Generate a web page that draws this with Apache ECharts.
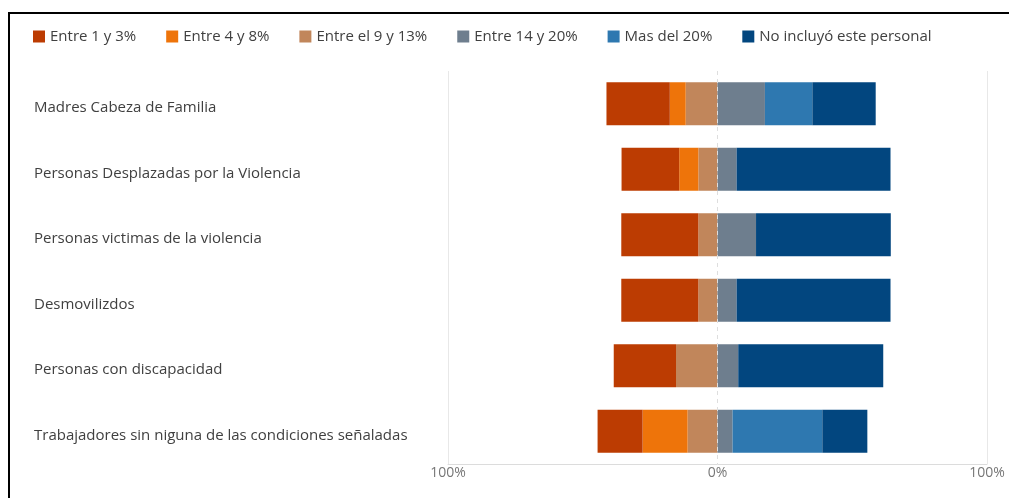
<!DOCTYPE html>
<html>
<head>
<meta charset="utf-8">
<script src="https://cdn.jsdelivr.net/npm/echarts@6/dist/echarts.min.js"></script>
<style>
html,body{margin:0;padding:0;background:#fff;}
#c{width:1009px;height:498px;}
</style>
</head>
<body>
<div id="c"></div>
<script>
// Categories (top to bottom)
const categories = [
  'Madres Cabeza de Familia',
  'Personas Desplazadas por la Violencia',
  'Personas victimas de la violencia',
  'Desmovilizdos',
  'Personas con discapacidad',
  'Trabajadores sin niguna de las condiciones señaladas'
];
const seriesNames = ['Entre 1 y 3%', 'Entre 4 y 8%', 'Entre el 9 y 13%', 'Entre 14 y 20%', 'Mas del 20%', 'No incluyó este personal'];
// Percentages per category (left side groups shown as negative)
const entre1y3   = [23.5, 21.4, 28.6, 28.6, 23.1, 16.7];
const entre4y8   = [5.9, 7.1, 0, 0, 0, 16.7];
const entre9y13  = [11.8, 7.1, 7.1, 7.1, 15.4, 11.1];
const entre14y20 = [17.6, 7.1, 14.3, 7.1, 7.7, 5.6];
const masDel20   = [17.6, 0, 0, 0, 0, 33.3];
const noIncluyo  = [23.5, 57.1, 50.0, 57.1, 53.8, 16.7];
const xTicks = [-100, 0, 100];

const colors = {
  'Entre 1 y 3%': '#BC3C02',
  'Entre 4 y 8%': '#EE740A',
  'Entre el 9 y 13%': '#C1865B',
  'Entre 14 y 20%': '#6E7E8E',
  'Mas del 20%': '#2E78B0',
  'No incluyó este personal': '#02467F'
};

function mk(name, arr, sign) {
  return {
    name: name,
    type: 'bar',
    stack: 'total',
    barWidth: 43,
    itemStyle: { color: colors[name] },
    emphasis: { disabled: true },
    data: arr.map(v => sign * v)
  };
}

const chart = echarts.init(document.getElementById('c'));
chart.setOption({
  animation: false,
  textStyle: { fontFamily: 'Open Sans' },
  legend: {
    data: seriesNames,
    left: 28, top: 24,
    itemWidth: 12, itemHeight: 12, itemGap: 30,
    icon: 'rect',
    textStyle: { fontSize: 15, color: '#404040', fontFamily: 'Open Sans' }
  },
  grid: { left: 448, right: 22, top: 71, bottom: 34, containLabel: false },
  xAxis: {
    type: 'value', min: xTicks[0], max: xTicks[2], interval: 100,
    axisLine: { show: true, lineStyle: { color: '#dcdcdc', width: 1 } },
    axisTick: { show: false },
    axisLabel: { formatter: v => Math.abs(v) + '%', color: '#777', fontSize: 14, margin: 2, fontFamily: 'Open Sans' },
    splitLine: { show: true, lineStyle: { color: ['#e8e8e8', 'rgba(0,0,0,0)', '#e8e8e8'], width: 1 } }
  },
  yAxis: {
    type: 'category', data: categories, inverse: true,
    axisLine: { show: false }, axisTick: { show: false },
    axisLabel: {
      align: 'left', margin: 414,
      formatter: v => '{a|' + v + '}',
      rich: { a: { color: '#404040', fontSize: 15, fontFamily: 'Open Sans', padding: [8, 0, 0, 0] } }
    }
  },
  graphic: [{
    type: 'rect', silent: true,
    shape: { x: 9, y: 13, width: 1100, height: 600 },
    style: { fill: 'none', stroke: '#000', lineWidth: 2 }
  }],
  series: [
    mk('Entre el 9 y 13%', entre9y13, -1),
    mk('Entre 4 y 8%', entre4y8, -1),
    mk('Entre 1 y 3%', entre1y3, -1),
    Object.assign(mk('Entre 14 y 20%', entre14y20, 1), {
      markLine: {
        silent: true, symbol: 'none', label: { show: false },
        lineStyle: { color: '#dedede', type: [4, 4], width: 1 },
        data: [{ xAxis: 0 }]
      }
    }),
    mk('Mas del 20%', masDel20, 1),
    mk('No incluyó este personal', noIncluyo, 1)
  ]
});
</script>
</body>
</html>
